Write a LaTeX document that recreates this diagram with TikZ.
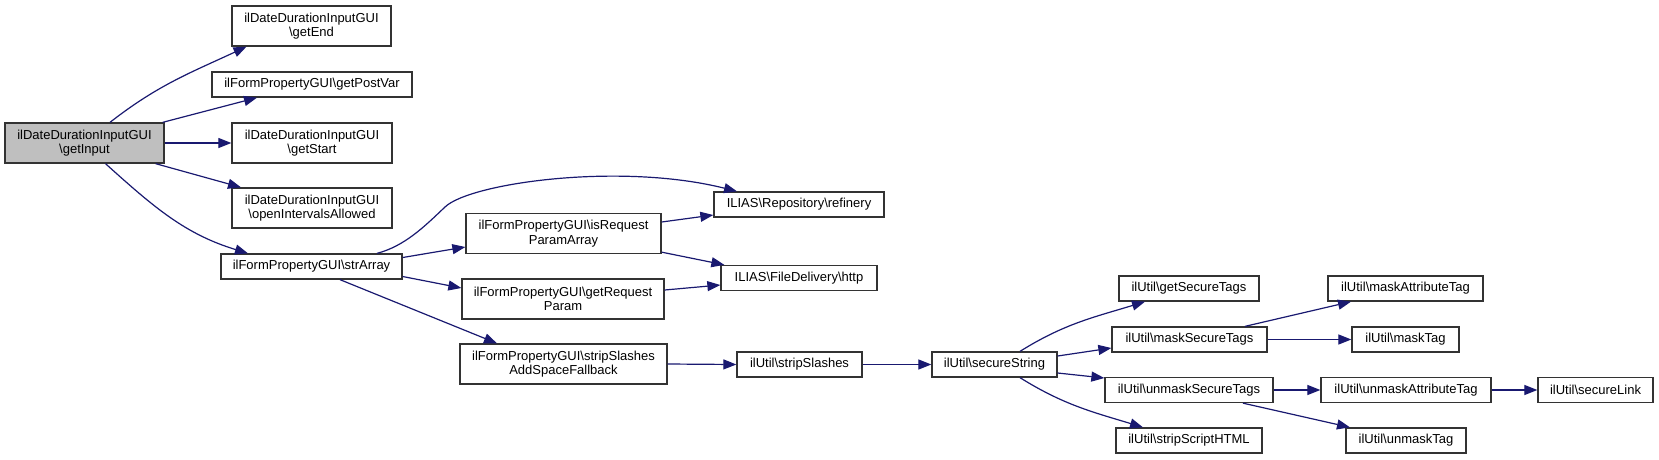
\documentclass[tikz,border=0pt]{standalone}
\usepackage{fontspec}
\setmainfont{Liberation Sans}
\usetikzlibrary{arrows.meta}
\tikzset{>={Triangle[length=13pt,width=10pt]}}
\definecolor{edgeblue}{HTML}{191970}
\definecolor{frame}{HTML}{333333}
\definecolor{rootgray}{HTML}{BFBFBF}
\newcommand{\bsl}{\textbackslash}

\begin{document}
\begin{tikzpicture}[x=1pt,y=-1pt]
\tikzset{
  fn/.style={
    draw=frame,
    fill=white,
    line width=1.3pt,
    minimum height=25pt,
    inner sep=0pt,
    align=center,
    font=\fontsize{13}{14.5}\selectfont
  },
  fn2/.style={fn,minimum height=40pt}
};

\tikzstyle{call}=[->,draw=edgeblue,line width=1.2pt]

\useasboundingbox (0,0) rectangle (1659,459);

 \node[fn2,fill=rootgray,minimum width=159pt] (gin) at (84.5,143) {ilDateDurationInputGUI\\\bsl getInput};

 \node[fn2,minimum width=159pt] (gend)   at (311.5,26)  {ilDateDurationInputGUI\\\bsl getEnd};
 \node[fn,minimum width=200pt]  (gpost)  at (312,84.5)  {ilFormPropertyGUI\bsl getPostVar};
 \node[fn2,minimum width=160pt] (gstart) at (312,143)   {ilDateDurationInputGUI\\\bsl getStart};
 \node[fn2,minimum width=160pt] (gopen)  at (312,208)   {ilDateDurationInputGUI\\\bsl openIntervalsAllowed};
 \node[fn,minimum width=181pt]  (strarr) at (311.5,266.5) {ilFormPropertyGUI\bsl strArray};

 \node[fn2,minimum width=195pt] (isreq)   at (563.5,233.5) {ilFormPropertyGUI\bsl isRequest\\ParamArray};
 \node[fn2,minimum width=202pt] (getreq)  at (563,299)     {ilFormPropertyGUI\bsl getRequest\\Param};
 \node[fn2,minimum width=207pt] (strsafb) at (563.5,364)   {ilFormPropertyGUI\bsl stripSlashes\\AddSpaceFallback};

 \node[fn,minimum width=170pt] (refin) at (799,204.5) {ILIAS\bsl Repository\bsl refinery};
 \node[fn,minimum width=156pt] (http)  at (799,278)   {ILIAS\bsl FileDelivery\bsl http};
 \node[fn,minimum width=125pt] (strsl) at (799.5,364.5) {ilUtil\bsl stripSlashes};

 \node[fn,minimum width=125pt] (secstr) at (994.5,364.5) {ilUtil\bsl secureString};

 \node[fn,minimum width=140pt] (gsectags)  at (1189,288.5)   {ilUtil\bsl getSecureTags};
 \node[fn,minimum width=155pt] (msectags)  at (1189.5,339.5) {ilUtil\bsl maskSecureTags};
 \node[fn,minimum width=168pt] (umsectags) at (1189,390)     {ilUtil\bsl unmaskSecureTags};
 \node[fn,minimum width=146pt] (stripscr)  at (1189,440.5)   {ilUtil\bsl stripScriptHTML};

 \node[fn,minimum width=155pt] (maskattr)  at (1405.5,288.5) {ilUtil\bsl maskAttributeTag};
 \node[fn,minimum width=107pt] (masktag)   at (1405.5,339.5) {ilUtil\bsl maskTag};
 \node[fn,minimum width=170pt] (umaskattr) at (1406,390)     {ilUtil\bsl unmaskAttributeTag};
 \node[fn,minimum width=120pt] (umasktag)  at (1406,440.5)   {ilUtil\bsl unmaskTag};
 \node[fn,minimum width=115pt] (seclink)   at (1595.5,390)   {ilUtil\bsl secureLink};

  \draw[call] ([xshift=25.5pt]gin.north) to[out=38,in=205] ([xshift=-65pt]gend.south);
  \draw[call] ([xshift=-2pt]gin.north east) -- ([xshift=-55pt]gpost.south);
  \draw[call] (gin.east) -- (gstart.west);
  \draw[call] ([xshift=-9pt]gin.south east) -- ([xshift=-71pt]gopen.north);
  \draw[call] ([xshift=21pt]gin.south) to[out=-42,in=163] ([xshift=-63.5pt]strarr.north);

  \draw[call] ([xshift=65.5pt]strarr.north) .. controls (405,246) and (425,226) .. (445,207)
    .. controls (470,183) and (620,162) .. ([xshift=-62pt]refin.north);
  \draw[call] ([yshift=9pt]strarr.east) -- ([yshift=-13.5pt]isreq.west);
  \draw[call] ([yshift=-10pt]strarr.east) -- ([yshift=11pt]getreq.west);
  \draw[call] ([xshift=28.5pt]strarr.south) -- ([xshift=-66.5pt]strsafb.north);

  \draw[call] ([yshift=11.5pt]isreq.east) -- ([yshift=-10.5pt]refin.west);
  \draw[call] ([yshift=2pt]isreq.south east) -- ([xshift=4pt]http.north west);
  \draw[call] ([yshift=9pt]getreq.east) -- ([yshift=-7pt]http.west);
  \draw[call] (strsafb.east) -- (strsl.west);
  \draw[call] (strsl.east) -- (secstr.west);

  \draw[call] ([xshift=25.5pt]secstr.north) to[out=32,in=197] ([xshift=-44pt]gsectags.south);
  \draw[call] ([yshift=8.5pt]secstr.east) -- ([yshift=-8.5pt]msectags.west);
  \draw[call] ([yshift=-8.5pt]secstr.east) -- ([yshift=12pt]umsectags.west);
  \draw[call] ([xshift=25.5pt]secstr.south) to[out=-32,in=163] ([xshift=-46pt]stripscr.north);

  \draw[call] ([xshift=55.5pt]msectags.north) -- ([xshift=-54.5pt]maskattr.south);
  \draw[call] (msectags.east) -- (masktag.west);
  \draw[call] (umsectags.east) -- (umaskattr.west);
  \draw[call] ([xshift=54pt]umsectags.south) -- ([xshift=-56pt]umasktag.north);
  \draw[call] (umaskattr.east) -- (seclink.west);
\end{tikzpicture}
\end{document}
